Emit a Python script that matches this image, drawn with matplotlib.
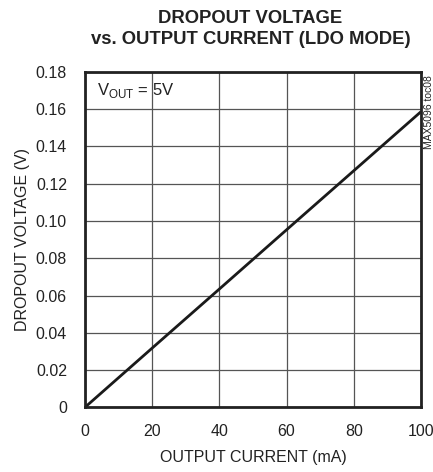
import matplotlib
matplotlib.use('Agg')
import matplotlib.pyplot as plt

plt.rcParams['font.family'] = ['Liberation Sans', 'DejaVu Sans']
plt.rcParams['mathtext.fontset'] = 'custom'
plt.rcParams['mathtext.rm'] = 'Liberation Sans'

# dropout voltage vs output current
current_ma = [0, 20, 40, 60, 80, 100]
dropout_v = [0.0, 0.0318, 0.0635, 0.0953, 0.127, 0.1587]

x_ticks = [0, 20, 40, 60, 80, 100]
y_ticks = [0, 0.02, 0.04, 0.06, 0.08, 0.10, 0.12, 0.14, 0.16, 0.18]
y_labels = ['0', '0.02', '0.04', '0.06', '0.08', '0.10', '0.12', '0.14', '0.16', '0.18']

fs = 11.5

fig = plt.figure(figsize=(4.33, 4.72), dpi=100)
ax = fig.add_axes([0.1963, 0.1371, 0.7760, 0.7104])

ax.plot(current_ma, dropout_v, color='#1a1a1a', lw=2.0, solid_capstyle='butt')

ax.set_xlim(0, 100)
ax.set_ylim(0, 0.18)
ax.set_xticks(x_ticks)
ax.set_yticks(y_ticks)
ax.set_yticklabels(y_labels)
ax.tick_params(length=0, labelsize=fs, colors='#222222')
ax.tick_params(axis='y', pad=13)
ax.tick_params(axis='x', pad=12)
ax.grid(True, color='#555555', lw=0.9)
ax.set_axisbelow(True)
for s in ax.spines.values():
    s.set_linewidth(2.0)
    s.set_color('#222222')

ax.set_xlabel('OUTPUT CURRENT (mA)', fontsize=fs, color='#222222', labelpad=8)
ax.set_ylabel('DROPOUT VOLTAGE (V)', fontsize=fs, color='#222222', labelpad=4)

fig.text(0.5785, 0.9385, 'DROPOUT VOLTAGE\nvs. OUTPUT CURRENT (LDO MODE)',
         ha='center', va='center', fontsize=13.3,
         fontweight='bold', color='#222222', linespacing=1.25)

ax.text(3.5, 0.1702, r'V$_{\mathrm{OUT}}$ = 5V', fontsize=12, color='#222222',
        ha='left', va='center')

fig.text(0.991, 0.763, 'MAX5096 toc08', rotation=90, fontsize=7.5,
         ha='center', va='center', color='#222222')

fig.savefig('out.png', dpi=100)
